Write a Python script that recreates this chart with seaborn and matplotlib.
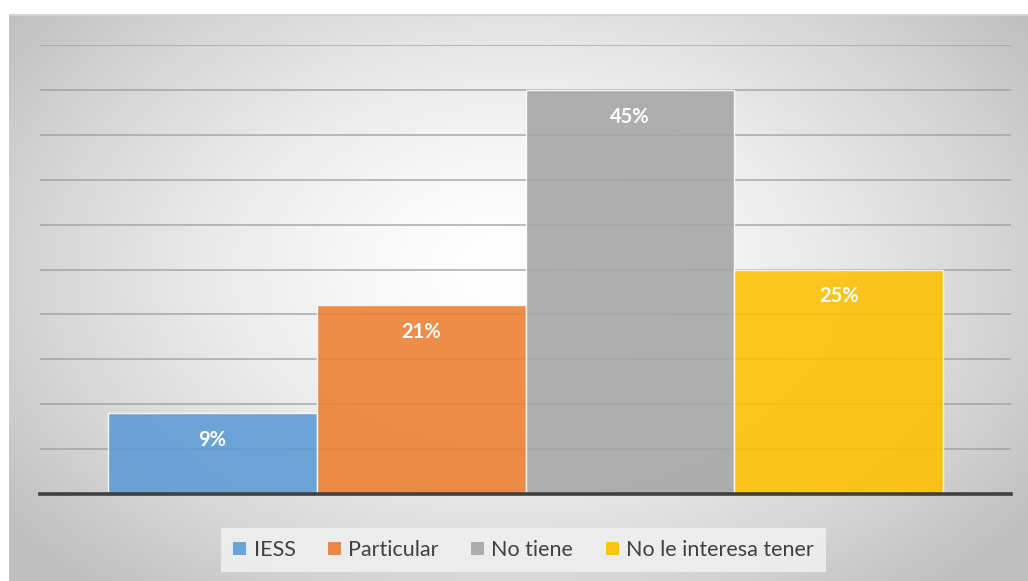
import numpy as np
import pandas as pd
import matplotlib
matplotlib.use("Agg")
import matplotlib.pyplot as plt
from matplotlib.patches import Patch
import seaborn as sns

categorias = ["IESS", "Particular", "No tiene", "No le interesa tener"]
valores = [9, 21, 45, 25]
etiquetas = ["9%", "21%", "45%", "25%"]
colores = ["#5b9bd5", "#ed7d31", "#a5a5a5", "#ffc000"]

sns.set_theme(style="white")
plt.rcParams['font.family'] = ['Lato', 'DejaVu Sans']

W, H = 1028, 581
fig = plt.figure(figsize=(W / 100, H / 100), dpi=100)
fig.patch.set_facecolor("white")

# background with radial gradient
bx0, by0 = 9, 14
bg = fig.add_axes([bx0 / W, 0, (W - bx0) / W, (H - by0) / H])
bg.set_axis_off()
nx, ny = W - bx0, H - by0
xx, yy = np.meshgrid(np.arange(nx), np.arange(ny))
cx, cy = 515 - bx0, 270 - by0
d = np.sqrt(((xx - cx) / (nx * 0.62)) ** 2 + ((yy - cy) / (ny * 0.75)) ** 2)
d = np.clip(d, 0, 1)
val = 1.0 - (1.0 - 0.75) * d ** 1.5
img = np.dstack([val, val, val])
bg.imshow(img, aspect="auto", extent=[0, nx, ny, 0], interpolation="bilinear")
bg.set_xlim(0, nx)
bg.set_ylim(ny, 0)
bg.plot([0, nx], [0.8, 0.8], color="#d4d4d4", lw=1.5)

# main plot axes
px0, px1 = 40, 1011
py_top, py_bot = 45, 494
ax = fig.add_axes([px0 / W, (H - py_bot) / H, (px1 - px0) / W, (py_bot - py_top) / H])
ax.patch.set_alpha(0)

df = pd.DataFrame({"grupo": [""] * len(categorias), "serie": categorias, "valor": valores})
sns.barplot(data=df, x="grupo", y="valor", hue="serie", hue_order=categorias,
            palette=colores, saturation=1, width=0.86, ax=ax, legend=False,
            edgecolor="white", linewidth=1.0, alpha=0.88, zorder=3, errorbar=None)

ax.set_xlim(-0.5, 0.5)
ax.set_ylim(0, 50)
ax.set_yticks(np.arange(0, 55, 5))
ax.yaxis.grid(True, color="#9a9a9a", lw=1.3, alpha=0.7)
ax.set_axisbelow(True)
ax.tick_params(left=False, bottom=False, labelleft=False, labelbottom=False)
ax.set_xlabel("")
ax.set_ylabel("")
for s in ["top", "right", "left"]:
    ax.spines[s].set_visible(False)
ax.spines["bottom"].set_color("#404040")
ax.spines["bottom"].set_linewidth(2.6)
ax.spines["bottom"].set_zorder(5)

for cont, v, lab in zip(ax.containers, valores, etiquetas):
    for bar in cont:
        xc = bar.get_x() + bar.get_width() / 2
        ax.annotate(lab, (xc, v), xytext=(0, -27 * 0.72), textcoords="offset points",
                    ha="center", va="center", color="white", fontsize=14.5,
                    fontweight="bold", zorder=6)

handles = [Patch(facecolor=c, edgecolor="none", alpha=0.9) for c in colores]
leg = fig.legend(handles, categorias, loc="center", bbox_to_anchor=(523.5 / W, 1 - 550 / H),
                 ncol=4, frameon=True, fancybox=False, fontsize=15.5, handlelength=0.6,
                 handleheight=0.6, handletextpad=0.35, columnspacing=1.5,
                 borderpad=0.55, labelcolor="#404040")
leg.get_frame().set_facecolor("#efefef")
leg.get_frame().set_edgecolor("none")
leg.get_frame().set_alpha(0.9)

fig.savefig("out.png", dpi=100)
